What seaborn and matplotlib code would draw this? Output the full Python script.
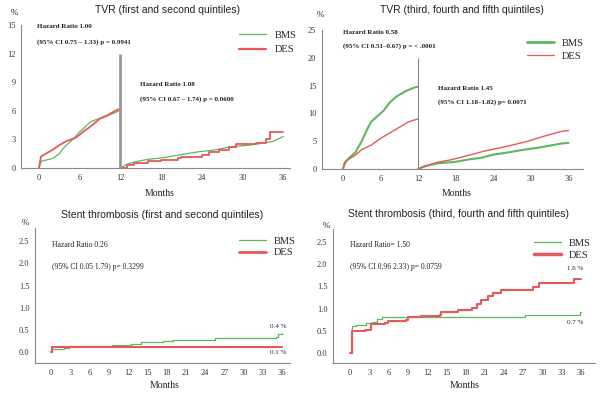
import numpy as np
import pandas as pd
import matplotlib
matplotlib.use("Agg")
import matplotlib.pyplot as plt
import seaborn as sns
from matplotlib.lines import Line2D

sns.set_style("white")
plt.rcParams['font.family'] = ['Liberation Serif', 'DejaVu Serif']

GREEN = "#5cb85c"
RED = "#e8585a"
GRAY = "#888888"

# ---------------- data ----------------
# TVR first & second quintiles, 0-12 months
tvr12_t1 = [0, 0.3, 2, 3, 3.5, 4.2, 5, 6, 6.8, 7.5, 8.5, 9.5, 10.5, 11.5, 12]
tvr12_bms1 = [0, 0.7, 1.0, 1.5, 2.0, 2.5, 3.0, 3.8, 4.3, 4.8, 5.1, 5.3, 5.6, 5.9, 6.0]
tvr12_tD1 = [0, 0.3, 1, 2, 3, 4, 5.5, 6.5, 7.5, 8.2, 9, 10, 10.5, 11.5, 12]
tvr12_des1 = [0, 1.2, 1.5, 1.9, 2.4, 2.8, 3.2, 3.8, 4.3, 4.7, 5.2, 5.5, 5.7, 6.1, 6.2]
# 12-36 months landmark
tvr36_tB1 = [12, 13, 14.5, 16, 18.5, 21, 23.5, 26, 28, 31, 33, 34.5, 36]
tvr36_bms1 = [0, 0.4, 0.7, 0.9, 1.1, 1.4, 1.7, 1.9, 2.2, 2.4, 2.6, 2.8, 3.3]
tvr36_tD1 = [12, 13, 14, 16, 18, 20.5, 21, 24, 25, 26.5, 28, 29, 32, 33.5, 34, 36]
tvr36_des1 = [0, 0.3, 0.5, 0.7, 0.8, 1.0, 1.2, 1.4, 1.7, 1.9, 2.2, 2.5, 2.6, 3.0, 3.8, 3.8]

# TVR third, fourth & fifth quintiles
tvr12_t2 = [0, 0.3, 0.6, 1, 2, 3, 3.8, 4.5, 5.5, 6.5, 7.5, 8.5, 10, 11.5, 12]
tvr12_bms2 = [0, 1.0, 1.5, 2.0, 3.0, 5.0, 7.0, 8.5, 9.5, 10.5, 12.0, 13.0, 14.0, 14.7, 14.8]
tvr12_tD2 = [0, 0.3, 1, 2, 3, 4.5, 6, 7.5, 9, 10.5, 12]
tvr12_des2 = [0, 1.3, 1.8, 2.5, 3.5, 4.3, 5.5, 6.5, 7.5, 8.5, 9.0]
tvr36_tB2 = [12, 13, 15, 18, 20.5, 22, 24, 26.5, 29, 31, 33, 35, 36]
tvr36_bms2 = [0, 0.5, 1.0, 1.3, 1.8, 2.0, 2.6, 3.0, 3.5, 3.8, 4.2, 4.6, 4.7]
tvr36_tD2 = [12, 13.5, 15, 17, 18.5, 20.5, 22.5, 25, 27, 29.5, 31.5, 33, 35, 36]
tvr36_des2 = [0, 0.6, 1.2, 1.6, 2.0, 2.6, 3.2, 3.8, 4.3, 5.0, 5.7, 6.2, 6.8, 6.9]

# Stent thrombosis first & second quintiles
st_tB1 = [0, 0.2, 2, 2.8, 9.5, 12.5, 14, 17.5, 19, 25.5, 35, 35.3, 36]
st_bms1 = [0, 0.07, 0.10, 0.13, 0.15, 0.18, 0.22, 0.25, 0.27, 0.31, 0.33, 0.41, 0.42]
st_tD1 = [0, 0.1, 36]
st_des1 = [0, 0.11, 0.11]

# Stent thrombosis third, fourth & fifth quintiles
st_tB2 = [0, 0.3, 1, 2.5, 3.5, 4.2, 5, 9, 27.3, 35.8, 36]
st_bms2 = [0, 0.60, 0.63, 0.67, 0.70, 0.77, 0.80, 0.81, 0.86, 0.93, 0.93]
st_tD2 = [0, 0.3, 2.4, 3.3, 5.5, 6, 8.8, 9, 11, 14, 14.2, 16.8, 19, 19.8, 20.5,
          21.5, 22.3, 23.5, 28.5, 28.6, 29.5, 34.8, 34.9, 36]
st_des2 = [0, 0.50, 0.52, 0.65, 0.68, 0.72, 0.75, 0.80, 0.83, 0.86, 0.93, 0.96, 1.02,
           1.10, 1.20, 1.28, 1.34, 1.42, 1.42, 1.48, 1.57, 1.57, 1.66, 1.67]

titles = ["TVR (first and second quintiles)", "TVR (third, fourth and fifth quintiles)",
          "Stent thrombosis (first and second quintiles)",
          "Stent thrombosis (third, fourth and fifth quintiles)"]
series_labels = ["BMS", "DES"]

W, H = 600, 394
fig = plt.figure(figsize=(6, 3.94), dpi=100)


def add_ax(l, r, t, b):
    return fig.add_axes([l / W, 1 - b / H, (r - l) / W, (b - t) / H])


def curve(ax, t, y, color, lw, steps=True):
    df = pd.DataFrame({"t": t, "y": y})
    kw = dict(drawstyle="steps-post") if steps else {}
    sns.lineplot(data=df, x="t", y="y", ax=ax, color=color, lw=lw,
                 estimator=None, sort=False, legend=False, **kw)


def style(ax, xticks, yticks, yfmt):
    ax.set_xticks(xticks)
    ax.set_yticks(yticks)
    ax.set_yticklabels([yfmt.format(v) for v in yticks])
    ax.tick_params(labelsize=6, length=2.5, width=0.6, color=GRAY, pad=1.5,
                   labelcolor="#333333")
    for s in ["top", "right"]:
        ax.spines[s].set_visible(False)
    for s in ["left", "bottom"]:
        ax.spines[s].set_color(GRAY)
        ax.spines[s].set_linewidth(0.8)
    ax.set_xlabel("")
    ax.set_ylabel("")


def legend(ax, handles_lw, x, y, spacing=0.25):
    hs = [Line2D([], [], color=GREEN, lw=handles_lw[0]),
          Line2D([], [], color=RED, lw=handles_lw[1])]
    ax.legend(hs, series_labels, loc="upper right", bbox_to_anchor=(x, y),
              frameon=False, fontsize=7.5, handlelength=2.6, handletextpad=0.8,
              labelspacing=spacing, borderaxespad=0)


def ftext(x, y, s, **kw):
    fig.text(x / W, 1 - y / H, s, **kw)


serif_small = dict(fontsize=5, va="center", ha="left", color="#222222")
sans_title = dict(fontsize=7.5, ha="center", va="center", family=["Liberation Sans", "DejaVu Sans"],
                  color="#222222")

# ---- Panel 1 ----
ax1 = add_ax(21, 290, 25, 168)
curve(ax1, tvr12_t1, tvr12_bms1, GREEN, 0.9, steps=False)
curve(ax1, tvr12_tD1, tvr12_des1, RED, 1.3, steps=False)
curve(ax1, tvr36_tB1, tvr36_bms1, GREEN, 0.9, steps=False)
curve(ax1, tvr36_tD1, tvr36_des1, RED, 1.3, steps=True)
ax1.vlines(12, 0, 12, color="#999999", lw=2)
ax1.set_xlim(-2.65, 37.0)
ax1.set_ylim(0, 15)
style(ax1, np.arange(0, 37, 6), np.arange(0, 16, 3), "{:d}")
legend(ax1, (0.9, 1.6), 1.04, 0.99, spacing=0.5)

# ---- Panel 2 ----
ax2 = add_ax(322, 583, 30, 169)
curve(ax2, tvr12_t2, tvr12_bms2, GREEN, 1.5, steps=False)
curve(ax2, tvr12_tD2, tvr12_des2, RED, 1.0, steps=False)
curve(ax2, tvr36_tB2, tvr36_bms2, GREEN, 1.5, steps=False)
curve(ax2, tvr36_tD2, tvr36_des2, RED, 1.0, steps=False)
ax2.vlines(12, 0, 20, color=GRAY, lw=0.8)
ax2.set_xlim(-3.34, 38.3)
ax2.set_ylim(0, 25)
style(ax2, np.arange(0, 37, 6), np.arange(0, 26, 5), "{:d}")
legend(ax2, (2.0, 0.9), 1.02, 0.97, spacing=0.35)

# ---- Panel 3 ----
ax3 = add_ax(35, 290, 228, 363)
curve(ax3, st_tB1, st_bms1, GREEN, 0.9)
curve(ax3, st_tD1, st_des1, RED, 1.5)
ax3.set_xlim(-2.5, 37.2)
ax3.set_ylim(-0.25, 2.8)
style(ax3, np.arange(0, 37, 3), np.arange(0, 2.6, 0.5), "{:.1f}")
legend(ax3, (0.9, 2.0), 1.04, 0.97)

# ---- Panel 4 ----
ax4 = add_ax(333, 595, 229, 363)
curve(ax4, st_tB2, st_bms2, GREEN, 0.9)
curve(ax4, st_tD2, st_des2, RED, 1.5)
ax4.set_xlim(-2.65, 38.2)
ax4.set_ylim(-0.225, 2.79)
style(ax4, np.arange(0, 37, 3), np.arange(0, 2.6, 0.5), "{:.1f}")
legend(ax4, (0.9, 2.5), 1.0, 0.96)

# ---- titles, labels, annotations ----
ftext(168, 10, titles[0], **sans_title)
ftext(462, 10, titles[1], **sans_title)
ftext(162, 215, titles[2], **sans_title)
ftext(458, 214, titles[3], **sans_title)

for (x, y) in [(14, 13), (320, 15), (25, 223), (326, 226)]:
    ftext(x, y, "%", fontsize=6.5, ha="center", va="center", color="#222222")

for (x, y) in [(160, 193), (457, 193), (165, 385), (465, 385)]:
    ftext(x, y, "Months", fontsize=7, ha="center", va="center", color="#222222")

bold = dict(serif_small, fontweight="bold")
ftext(37, 27, "Hazard Ratio 1.00", **bold)
ftext(37, 42, "(95% CI 0.75 \u2013 1.33) p = 0.9941", **bold)
ftext(140, 85, "Hazard Ratio 1.08", **bold)
ftext(140, 99, "(95% CI 0.67 \u2013 1.74) p = 0.0600", **bold)
ftext(343, 32, "Hazard Ratio 0.58", **bold)
ftext(343, 46, "(95% CI 0.51\u20130.67) p = < .0001", **bold)
ftext(438, 88, "Hazard Ratio 1.45", **bold)
ftext(438, 102, "(95% CI 1.18\u20131.82) p= 0.0071", **bold)

ftext(52, 245, "Hazard Ratio 0.26", fontsize=5.5, va="center", ha="left", color="#222222")
ftext(52, 267, "(95% CI 0.05 1.79) p= 0.3299", fontsize=5.5, va="center", ha="left", color="#222222")
ftext(350, 245, "Hazard Ratio= 1.50", fontsize=5.5, va="center", ha="left", color="#222222")
ftext(350, 267, "(95% CI 0.96 2.33) p= 0.0759", fontsize=5.5, va="center", ha="left", color="#222222")

ftext(278, 326, "0.4 %", fontsize=5, ha="center", va="center", color="#222222")
ftext(278, 352, "0.1 %", fontsize=5, ha="center", va="center", color="#222222")
ftext(575, 269, "1.6 %", fontsize=5, ha="center", va="center", color="#222222")
ftext(575, 323, "0.7 %", fontsize=5, ha="center", va="center", color="#222222")

fig.savefig("out.png", dpi=100)
